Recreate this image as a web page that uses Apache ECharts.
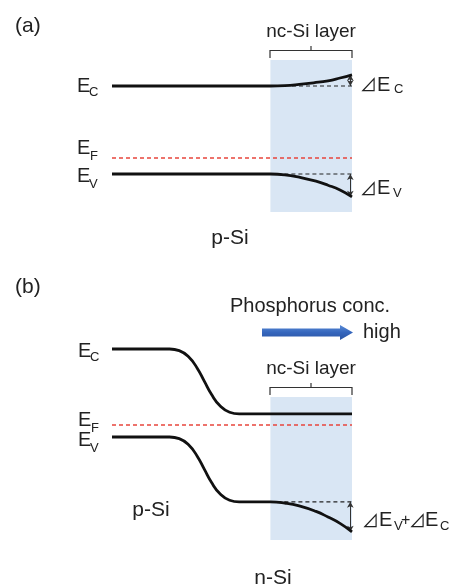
<!DOCTYPE html>
<html><head><meta charset="utf-8">
<script src="https://cdn.jsdelivr.net/npm/echarts@6/dist/echarts.min.js"></script>
<style>html,body{margin:0;padding:0;background:#fff}#c{width:466px;height:588px}</style>
</head><body><div id="c"></div>
<script>
// ---- data (energies in eV, position in arbitrary units 0..100) ----
const layerRange = [66, 100];           // nc-Si layer extent
const fermiA = 0.2;                     // E_F, panel (a)
const fermiB = 0.15;                    // E_F, panel (b)
const ecA = [[0,1.1],[66,1.1],[72,1.105],[78,1.12],[84,1.14],[90,1.165],[95,1.2],[100,1.24]];
const evA = [[0,0],[66,0],[72,-0.01],[78,-0.04],[85,-0.09],[90,-0.14],[95,-0.2],[100,-0.285]];
const ecB = [[0,1.1],[24,1.1],[28,1.08],[32,1.0],[35.5,0.86],[38.5,0.695],[41.5,0.53],[45,0.39],[49,0.31],[53,0.29],[100,0.29]];
const evB = [[0,0],[24,0],[28,-0.02],[32,-0.1],[35.5,-0.24],[38.5,-0.405],[41.5,-0.57],[45,-0.71],[49,-0.79],[53,-0.81],[66,-0.81],[72,-0.825],[78,-0.86],[85,-0.93],[90,-1.0],[95,-1.08],[100,-1.185]];

const FONT = '"Liberation Sans", Arial, sans-serif';
const TRI_FONT = '"Noto Sans CJK JP", "Noto Sans CJK SC", sans-serif';
const TXT = '#222';
const chart = echarts.init(document.getElementById('c'), null, {renderer:'canvas'});

function last(a){ return a[a.length-1]; }
function flatBefore(a, x){ let v=a[0][1]; for(const p of a){ if(p[0]<=x) v=p[1]; } return v; }

function band(data, gi){
  return {type:'line', xAxisIndex:gi, yAxisIndex:gi, data, symbol:'none', smooth:0.5,
    lineStyle:{color:'#111', width:2.8, cap:'butt'}, z:5, silent:true};
}
function refDash(level, x0, gi){
  return {type:'line', xAxisIndex:gi, yAxisIndex:gi, data:[[x0,level],[layerRange[1],level]], symbol:'none',
    lineStyle:{color:'#222', width:1.2, type:[4,3]}, z:4, silent:true};
}
function fermi(level, gi, area){
  const s = {type:'line', xAxisIndex:gi, yAxisIndex:gi, data:[[0,level],[100,level]], symbol:'none',
    lineStyle:{color:'#e8453c', width:1.3, type:[4,3]}, z:4, silent:true};
  if(area) s.markArea = {silent:true, itemStyle:{color:'#d9e6f4'}, data:[area]};
  return s;
}
function arrows(pairs, gi){
  return {type:'line', xAxisIndex:gi, yAxisIndex:gi, data:[], symbol:'none',
    markLine:{silent:true, symbol:['arrow','arrow'], symbolSize:[5,6], label:{show:false},
      lineStyle:{color:'#333', width:1, type:'solid'},
      data: pairs.map(p=>[{coord:[99.3,p[0]]},{coord:[99.3,p[1]]}])}, z:6};
}

function txt(x, y, s, size, align, fam){
  const f = fam || FONT;
  return {type:'text', x, y, silent:true, style:{text:s, font:size+'px '+f, fontSize:size, fontFamily:f,
    fill:TXT, align:align||'left', textAlign:align||'left', verticalAlign:'middle', textVerticalAlign:'middle'}};
}
function tri(x, y){ return txt(x, y, '⊿', 17, 'left', TRI_FONT); }
function bracket(y){
  return {type:'polyline', silent:true, shape:{points:[[270,y+7.5],[270,y],[352,y],[352,y+7.5]]},
    style:{stroke:'#333', lineWidth:1.2, fill:null}};
}
function tick(y){
  return {type:'line', silent:true, shape:{x1:311,y1:y,x2:311,y2:y-4.5}, style:{stroke:'#333', lineWidth:1.2}};
}

const graphics = [
  txt(15,26,'(a)',21),
  txt(311,32,'nc-Si layer',19,'center'),
  bracket(50.5), tick(50.5),
  txt(77,86.5,'E',20), txt(89,92.5,'C',13),
  txt(77,148.5,'E',20), txt(90,156,'F',13),
  txt(77,176,'E',20), txt(89,184,'V',13),
  tri(360,85), txt(377,85,'E',20), txt(394,89,'C',13),
  tri(360,188.5), txt(377,188.5,'E',20), txt(393,193,'V',13),
  txt(230,238,'p-Si',21,'center'),

  txt(15,287,'(b)',21),
  txt(230,306,'Phosphorus conc.',20),
  {type:'polygon', silent:true, shape:{points:[[262,328.5],[340,328.5],[340,325],[353,332.5],[340,340],[340,336.5],[262,336.5]]},
    style:{fill:new echarts.graphic.LinearGradient(0,0,0,1,[{offset:0,color:'#5a8bd6'},{offset:0.5,color:'#3566bd'},{offset:1,color:'#2b55a3'}])}},
  txt(363,332,'high',20),
  txt(311,369,'nc-Si layer',19,'center'),
  bracket(387.5), tick(387.5),
  txt(78,351,'E',20), txt(90,357,'C',13),
  txt(78,420,'E',20), txt(91,428,'F',13),
  txt(78,440,'E',20), txt(90,448,'V',13),
  txt(151,510,'p-Si',21,'center'),
  txt(273,578,'n-Si',21,'center'),
  tri(362,520.5), txt(379,520.5,'E',20), txt(394,526,'V',13), txt(401,520.5,'+',16),
  tri(409,520.5), txt(425,520.5,'E',20), txt(440,526,'C',13)
];

const yMinB = -1.2875;
chart.setOption({
  animation:false,
  backgroundColor:'#fff',
  grid:[
    {left:112, width:240, top:60, height:152},
    {left:112, width:240, top:340, height:200}
  ],
  xAxis:[
    {type:'value', gridIndex:0, min:0, max:100, show:false},
    {type:'value', gridIndex:1, min:0, max:100, show:false}
  ],
  yAxis:[
    {type:'value', gridIndex:0, min:-0.475, max:1.425, show:false},
    {type:'value', gridIndex:1, min:yMinB, max:1.2125, show:false}
  ],
  series:[
    fermi(fermiA, 0, [{xAxis:layerRange[0]},{xAxis:layerRange[1]}]),
    refDash(flatBefore(ecA, layerRange[0]), 75, 0),
    refDash(flatBefore(evA, layerRange[0]), layerRange[0], 0),
    band(ecA, 0), band(evA, 0),
    arrows([[flatBefore(ecA, layerRange[0]), last(ecA)[1]],[flatBefore(evA, layerRange[0]), last(evA)[1]]], 0),

    fermi(fermiB, 1, [{xAxis:layerRange[0], yAxis:0.5},{xAxis:layerRange[1], yAxis:yMinB}]),
    refDash(flatBefore(evB, layerRange[0]), layerRange[0], 1),
    band(ecB, 1), band(evB, 1),
    arrows([[flatBefore(evB, layerRange[0]), last(evB)[1]]], 1)
  ],
  graphic: graphics
});
</script></body></html>
